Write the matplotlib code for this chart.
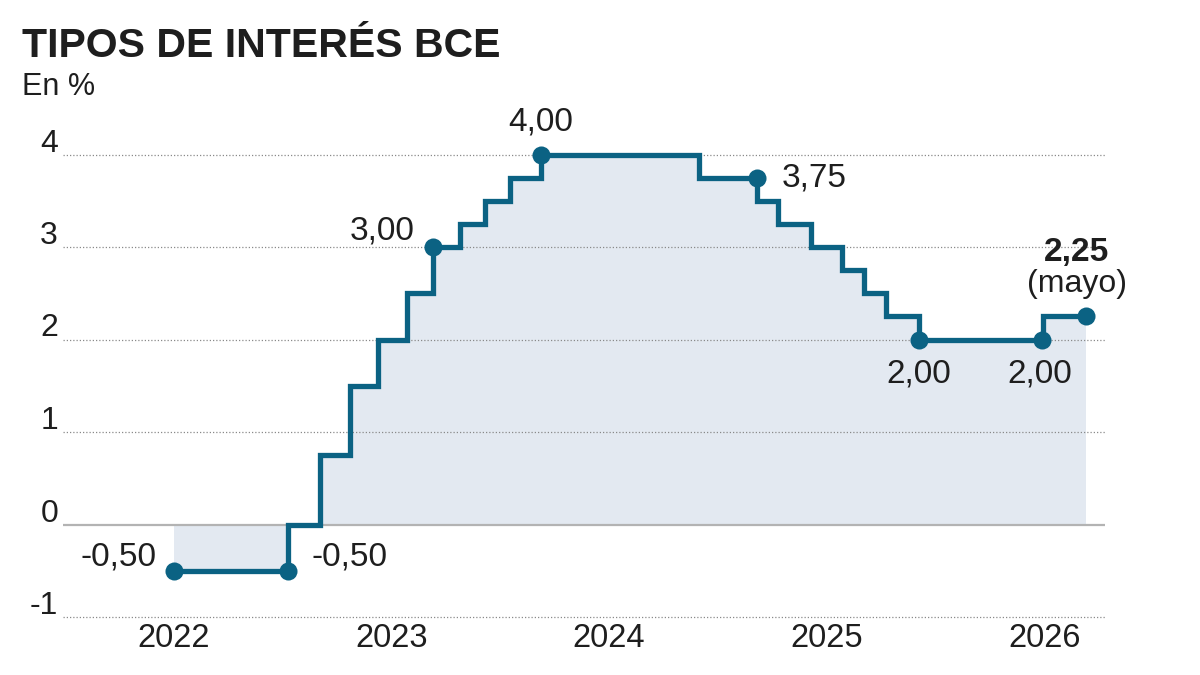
import matplotlib
matplotlib.use("Agg")
import matplotlib.pyplot as plt
import matplotlib.dates as mdates
import matplotlib.transforms as mtransforms
from datetime import date, timedelta

# ---------------- data ----------------
step_dates = ["2022-01-01", "2022-07-11", "2022-09-04", "2022-10-23", "2022-12-09",
              "2023-01-27", "2023-03-12", "2023-04-26", "2023-06-07", "2023-07-19",
              "2023-09-09", "2024-05-31", "2024-09-06", "2024-10-11", "2024-12-05",
              "2025-01-26", "2025-03-04", "2025-04-10", "2025-06-04", "2025-12-30",
              "2026-03-12"]
rates = [-0.50, 0.00, 0.75, 1.50, 2.00,
         2.50, 3.00, 3.25, 3.50, 3.75,
         4.00, 3.75, 3.50, 3.25, 3.00,
         2.75, 2.50, 2.25, 2.00, 2.25,
         2.25]

dot_dates = ["2022-01-01", "2022-07-11", "2023-03-12", "2023-09-09", "2024-09-06",
             "2025-06-04", "2025-12-28", "2026-03-12"]
dot_values = [-0.50, -0.50, 3.00, 4.00, 3.75, 2.00, 2.00, 2.25]
dot_labels = ["-0,50", "-0,50", "3,00", "4,00", "3,75", "2,00", "2,00", "2,25"]

y_ticks = [-1, 0, 1, 2, 3, 4]
y_tick_labels = ["-1", "0", "1", "2", "3", "4"]
x_years = [2022, 2023, 2024, 2025, 2026]

title = "TIPOS DE INTERÉS BCE"
subtitle = "En %"
last_note = "(mayo)"

# ---------------- style ----------------
LINE = "#0b6283"
FILL = "#e3e9f1"
TXT = "#1e1e1e"
FONT = "Liberation Sans"
plt.rcParams["font.family"] = [FONT, "DejaVu Sans"]

W, H, DPI = 1200, 675, 100
fig = plt.figure(figsize=(W / DPI, H / DPI), dpi=DPI)
fig.patch.set_facecolor("white")

# axes box in pixels
ax_l, ax_r, ax_t, ax_b = 63, 1105, 100, 620
ax = fig.add_axes([ax_l / W, 1 - ax_b / H, (ax_r - ax_l) / W, (ax_b - ax_t) / H])

d = [mdates.date2num(date.fromisoformat(s)) for s in step_dates]
dd = [mdates.date2num(date.fromisoformat(s)) for s in dot_dates]

# scales (pixel-calibrated)
zero_px, px_per_unit = 524.5, 92.5
ax.set_ylim((zero_px - ax_b) / px_per_unit, (zero_px - ax_t) / px_per_unit)
origin = date(2022, 1, 1)
px_day = 217.5 / 365.25
x0_px = 174
ax.set_xlim(mdates.date2num(origin - timedelta(days=(x0_px - ax_l) / px_day)),
            mdates.date2num(origin + timedelta(days=(ax_r - x0_px) / px_day)))

# gridlines
for v in y_ticks:
    if v == 0:
        ax.axhline(v, color="#b3b3b3", lw=1.6, zorder=1)
    else:
        ax.axhline(v, color="#8a8a8a", lw=0.9, ls=(0, (1, 1.6)), zorder=1)

ax.fill_between(d, rates, 0, step="post", color=FILL, lw=0, zorder=0.5)
ax.step(d, rates, where="post", color=LINE, lw=3.8, zorder=3,
        solid_joinstyle="miter")
ax.plot(dd, dot_values, "o", color=LINE, ms=13, zorder=4, mec="none")

# y labels, sitting just above the gridlines
for v, lab in zip(y_ticks, y_tick_labels):
    tr = mtransforms.blended_transform_factory(ax.transAxes, ax.transData)
    tr = tr + mtransforms.ScaledTranslation(-5 / DPI, 3 / DPI, fig.dpi_scale_trans)
    ax.text(0, v, lab, transform=tr, ha="right", va="baseline",
            fontsize=23, color=TXT)

# x labels
ax.set_xticks([mdates.date2num(date(y, 1, 1)) for y in x_years])
ax.set_xticklabels([str(y) for y in x_years], fontsize=23.5, color=TXT)
ax.tick_params(axis="x", length=0, pad=2)
ax.set_yticks([])
for s in ax.spines.values():
    s.set_visible(False)

# annotations (offsets in pixels)
offsets = [(-17, 5, "right"), (24, 5, "left"), (-18, 7, "right"), (0, 24, "center"),
           (25, -9, "left"), (0, -43, "center"), (-2, -43, "center"), (-9, 55, "center")]
for i, (x, y, lab) in enumerate(zip(dd, dot_values, dot_labels)):
    ox, oy, ha = offsets[i]
    bold = i == len(dot_labels) - 1
    ax.annotate(lab, (x, y), xytext=(ox, oy), textcoords="offset pixels",
                ha=ha, va="baseline", fontsize=24, color=TXT,
                fontweight="bold" if bold else "normal", annotation_clip=False)
ax.annotate(last_note, (dd[-1], dot_values[-1]), xytext=(-9, 24), textcoords="offset pixels",
            ha="center", va="baseline", fontsize=23, color=TXT, annotation_clip=False)

# titles
fig.text(22 / W, 1 - 57 / H, title, ha="left", va="baseline", fontsize=29.5,
         fontweight="bold", color=TXT)
fig.text(22 / W, 1 - 95 / H, subtitle, ha="left", va="baseline", fontsize=22, color=TXT)

fig.savefig("out.png", dpi=DPI, facecolor="white")
